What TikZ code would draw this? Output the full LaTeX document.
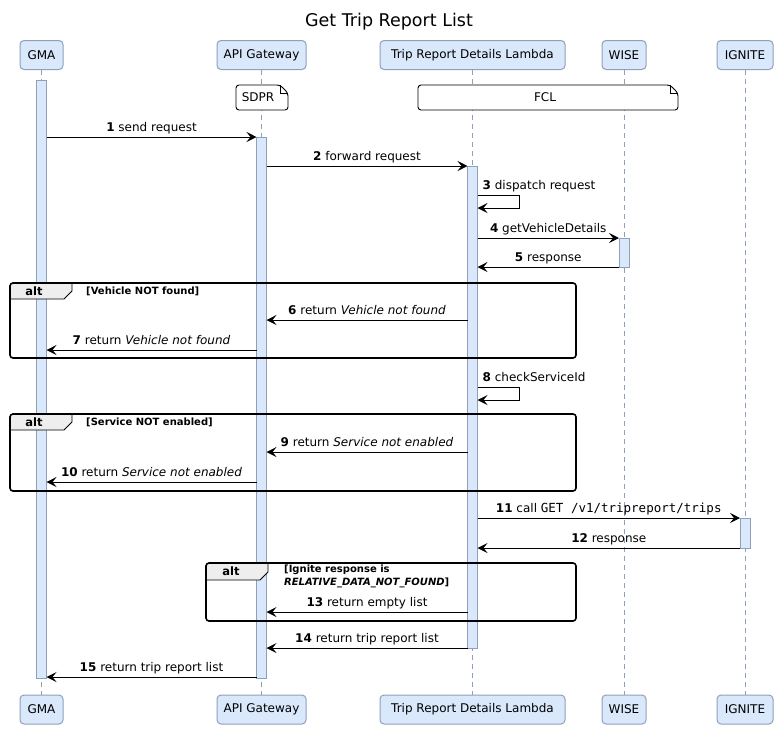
\documentclass[tikz,border=0pt]{standalone}
\usepackage{fontspec}
\setmainfont{DejaVu Sans}
\setmonofont{DejaVu Sans Mono}
\usepackage{xcolor}
\usepackage{tikz}
\usetikzlibrary{arrows.meta}

\definecolor{partfill}{RGB}{218,232,252}
\definecolor{partline}{RGB}{143,160,189}
\definecolor{tabfill}{RGB}{238,238,238}

\tikzset{
  part/.style={draw=partline, fill=partfill, line width=1pt, rounded corners=4pt,
    minimum height=29pt, inner sep=0pt, font=\fontsize{12}{14}\selectfont},
  life/.style={draw=partline, line width=0.8pt, dash pattern=on 5pt off 4pt},
  bar/.style={draw=partline, fill=partfill, line width=0.8pt},
  msg/.style={line width=1pt, -{Stealth[length=10pt,width=10pt,inset=4pt]}},
  lbl/.style={anchor=south, inner sep=1pt, yshift=1.5pt, text height=8.5pt,
    text depth=2.5pt, font=\fontsize{12}{14}\selectfont},
  frame/.style={draw, line width=1.6pt, rounded corners=3pt},
  tab/.style={draw, fill=tabfill, line width=0.8pt},
  alttxt/.style={inner sep=0pt, font=\fontsize{11.5}{13}\selectfont\bfseries},
  guard/.style={inner sep=0pt, align=left, font=\fontsize{10}{13}\selectfont\bfseries},
  note/.style={draw, fill=white, line width=0.9pt, rounded corners=3pt},
  notetxt/.style={inner sep=0pt, font=\fontsize{12}{14}\selectfont},
}

\begin{document}
\begin{tikzpicture}[x=1pt, y=-1pt]
\fill[white] (0,0) rectangle (778,729);
\useasboundingbox (0,0) rectangle (778,729);

\node[font=\fontsize{17.5}{20}\selectfont] (title) at (389,22) {Get Trip Report List};

% participants, top and bottom, with their lifelines
\foreach \n/\x/\w/\t in {gma/41.5/43/GMA, api/261.5/89/API Gateway,
    lam/472.5/185/Trip Report Details Lambda, wise/624/44/WISE, ign/745/56/IGNITE}{
  \draw[life] (\x,70) -- (\x,695);
  \node[part, minimum width=\w pt] (\n) at (\x,55) {\t};
  \node[part, minimum width=\w pt] (\n2) at (\x,709.5) {\t};
}

\foreach \n/\y in {t1/80, m1/137, m2/166, m3/195, m3b/208, m4/238, m5/267,
    m6/320, m7/350, m8/387, m8b/400, m9/452, m10/482, m11/518, m12/548,
    m13/612, m14/648, m15/677, e1/678}
  \coordinate (\n) at (0,\y);

% notes
\draw[note] (280,85) -- (236,85) -- (236,110) -- (288,110) -- (288,93) -- cycle;
\draw[line width=0.9pt] (280,85) -- (280,93) -- (288,93);
\node[notetxt] (sdpr) at (258,97.5) {SDPR};
\draw[note] (670,85) -- (418,85) -- (418,110) -- (678,110) -- (678,93) -- cycle;
\draw[line width=0.9pt] (670,85) -- (670,93) -- (678,93);
\node[notetxt] (fcl) at (545,97.5) {FCL};

% activations
\draw[bar] ([xshift=-5pt]gma |- t1) rectangle ([xshift=5pt]gma |- e1);
\draw[bar] ([xshift=-5pt]api |- m1) rectangle ([xshift=5pt]api |- e1);
\draw[bar] ([xshift=-5pt]lam |- m2) rectangle ([xshift=5pt]lam |- m14);
\draw[bar] ([xshift=-5pt]wise |- m4) rectangle ([xshift=5pt]wise |- m5);
\draw[bar] ([xshift=-5pt]ign |- m11) rectangle ([xshift=5pt]ign |- m12);

% alt frames
\filldraw[tab] (10,299) [rounded corners=3pt] -- (10,283) [sharp corners] -- (72,283) -- (72,291) -- (64,299) -- cycle;
\draw[frame] (10,283) rectangle (576,358);
\node[alttxt] (alt1) at (34,291) {alt};
\node[guard, anchor=west] (g1) at (86,291) {[Vehicle NOT found]};

\filldraw[tab] (10,430) [rounded corners=3pt] -- (10,414) [sharp corners] -- (72,414) -- (72,422) -- (64,430) -- cycle;
\draw[frame] (10,414) rectangle (576,491);
\node[alttxt] (alt2) at (34,422) {alt};
\node[guard, anchor=west] (g2) at (86,422) {[Service NOT enabled]};

\filldraw[tab] (206,580) [rounded corners=3pt] -- (206,563) [sharp corners] -- (268,563) -- (268,572) -- (260,580) -- cycle;
\draw[frame] (206,563) rectangle (576,621);
\node[alttxt] (alt3) at (231,571.5) {alt};
\node[guard, anchor=north west] (g3) at (284,565) {[Ignite response is\\\textit{RELATIVE\_DATA\_NOT\_FOUND}]};

% messages
\draw[msg] ([xshift=5pt]gma |- m1) -- node[lbl] (l1) {\textbf{1} send request} ([xshift=-5pt]api |- m1);
\draw[msg] ([xshift=5pt]api |- m2) -- node[lbl] (l2) {\textbf{2} forward request} ([xshift=-5pt]lam |- m2);
\draw[msg] ([xshift=5pt]lam |- m3) -- ++(42,0) |- ([xshift=5pt]lam |- m3b);
\node[lbl, anchor=south west] (l3) at ([xshift=9pt]lam |- m3) {\textbf{3} dispatch request};
\draw[msg] ([xshift=5pt]lam |- m4) -- node[lbl] (l4) {\textbf{4} getVehicleDetails} ([xshift=-5pt]wise |- m4);
\draw[msg] ([xshift=-5pt]wise |- m5) -- node[lbl] (l5) {\textbf{5} response} ([xshift=5pt]lam |- m5);
\draw[msg] ([xshift=-5pt]lam |- m6) -- node[lbl] (l6) {\textbf{6} return \textit{Vehicle not found}} ([xshift=5pt]api |- m6);
\draw[msg] ([xshift=-5pt]api |- m7) -- node[lbl] (l7) {\textbf{7} return \textit{Vehicle not found}} ([xshift=5pt]gma |- m7);
\draw[msg] ([xshift=5pt]lam |- m8) -- ++(42,0) |- ([xshift=5pt]lam |- m8b);
\node[lbl, anchor=south west] (l8) at ([xshift=9pt]lam |- m8) {\textbf{8} checkServiceId};
\draw[msg] ([xshift=-5pt]lam |- m9) -- node[lbl] (l9) {\textbf{9} return \textit{Service not enabled}} ([xshift=5pt]api |- m9);
\draw[msg] ([xshift=-5pt]api |- m10) -- node[lbl] (l10) {\textbf{10} return \textit{Service not enabled}} ([xshift=5pt]gma |- m10);
\draw[msg] ([xshift=5pt]lam |- m11) -- node[lbl] (l11) {\textbf{11} call {\fontsize{12.5}{14}\ttfamily GET /v1/tripreport/trips}} ([xshift=-5pt]ign |- m11);
\draw[msg] ([xshift=-5pt]ign |- m12) -- node[lbl] (l12) {\textbf{12} response} ([xshift=5pt]lam |- m12);
\draw[msg] ([xshift=-5pt]lam |- m13) -- node[lbl] (l13) {\textbf{13} return empty list} ([xshift=5pt]api |- m13);
\draw[msg] ([xshift=-5pt]lam |- m14) -- node[lbl] (l14) {\textbf{14} return trip report list} ([xshift=5pt]api |- m14);
\draw[msg] ([xshift=-5pt]api |- m15) -- node[lbl] (l15) {\textbf{15} return trip report list} ([xshift=5pt]gma |- m15);
\end{tikzpicture}
\end{document}
